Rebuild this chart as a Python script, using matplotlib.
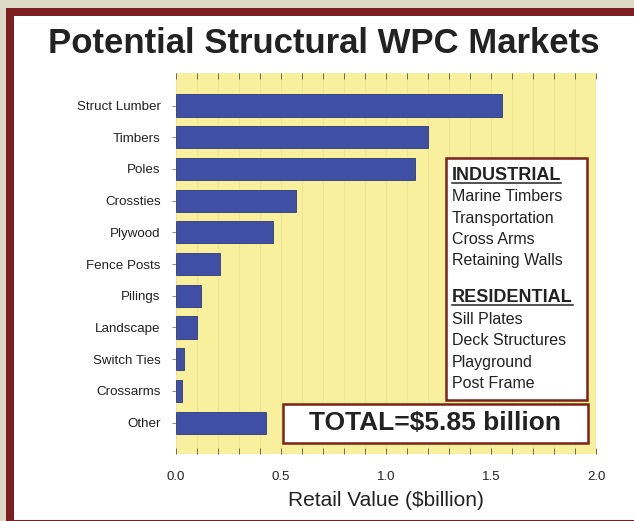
import matplotlib
matplotlib.use("Agg")
import matplotlib.pyplot as plt
from matplotlib.patches import Rectangle
from matplotlib.lines import Line2D
from matplotlib.ticker import MultipleLocator

plt.rcParams['font.family'] = ['Liberation Sans', 'DejaVu Sans']

markets = ['Struct Lumber', 'Timbers', 'Poles', 'Crossties', 'Plywood',
           'Fence Posts', 'Pilings', 'Landscape', 'Switch Ties', 'Crossarms',
           'Other']
retail_value = [1.55, 1.20, 1.14, 0.57, 0.46, 0.21, 0.12, 0.10, 0.04, 0.03, 0.43]
x_ticks = [0.0, 0.5, 1.0, 1.5, 2.0]

industrial = ['Marine Timbers', 'Transportation', 'Cross Arms', 'Retaining Walls']
residential = ['Sill Plates', 'Deck Structures', 'Playground', 'Post Frame']
total_text = 'TOTAL=$5.85 billion'

W, H = 634, 521
fig = plt.figure(figsize=(W / 100, H / 100), dpi=100)

def fx(px):
    return px / W

def fy(py):
    return 1 - py / H

# frame: beige outside, dark red border, white panel
fig.patch.set_facecolor('#dcd9c6')
fig.patches.append(Rectangle((fx(6), 0), 1, fy(8), transform=fig.transFigure,
                             facecolor='#7d1f22', edgecolor='none', zorder=-3))
fig.patches.append(Rectangle((fx(14), 1.2 / H), 1, fy(16) - 1.2 / H,
                             transform=fig.transFigure, facecolor='white',
                             edgecolor='none', zorder=-2))

ax = fig.add_axes([fx(176), fy(454), fx(596) - fx(176), (454 - 73) / H])
ax.set_facecolor('#f8f09c')
pos = list(range(len(markets)))
ax.barh(pos, retail_value, height=0.7, color='#3f50a4', edgecolor='#2c3a7c',
        linewidth=0.6, zorder=3)
ax.set_ylim(10.99, -1.025)
ax.set_xlim(0, 2.0)
ax.set_yticks(pos)
ax.set_yticklabels(markets)
ax.set_xticks(x_ticks)
ax.set_xticklabels([f'{t:.1f}' for t in x_ticks])
ax.xaxis.set_minor_locator(MultipleLocator(0.1))
ax.grid(axis='x', which='both', color='#efe592', linewidth=0.8, zorder=0)
ax.set_axisbelow(True)
for s in ax.spines.values():
    s.set_visible(False)
ax.tick_params(axis='x', which='both', direction='in', top=True, bottom=True,
               length=4, width=0.7, color='#6f6a50', labelsize=9.5,
               labelcolor='#222222', pad=12)
ax.tick_params(axis='y', length=3, width=0.7, color='#888888', labelsize=9.6,
               labelcolor='#222222', pad=8)
ax.set_xlabel('Retail Value ($billion)', fontsize=15, color='#222222', labelpad=6)

fig.text(fx(323.5), fy(53), 'Potential Structural WPC Markets', ha='center',
         va='baseline', fontsize=25, fontweight='bold', color='#222222')

# side box with market segments
border = '#7a2218'
fig.patches.append(Rectangle((fx(446), fy(400)), fx(587) - fx(446), (400 - 158) / H,
                             transform=fig.transFigure, facecolor='white',
                             edgecolor=border, linewidth=1.8, zorder=5))
heads = []
heads.append(fig.text(fx(452), fy(180), 'INDUSTRIAL', fontsize=13,
                      fontweight='bold', color='#222222', va='baseline', zorder=6))
for i, name in enumerate(industrial):
    fig.text(fx(452), fy(201 + 21.5 * i), name, fontsize=11.5, color='#222222',
             va='baseline', zorder=6)
heads.append(fig.text(fx(452), fy(302), 'RESIDENTIAL', fontsize=13,
                      fontweight='bold', color='#222222', va='baseline', zorder=6))
for i, name in enumerate(residential):
    fig.text(fx(452), fy(324 + 21.3 * i), name, fontsize=11.5, color='#222222',
             va='baseline', zorder=6)

# total box
fig.patches.append(Rectangle((fx(283), fy(443)), fx(588) - fx(283), (443 - 404) / H,
                             transform=fig.transFigure, facecolor='white',
                             edgecolor=border, linewidth=1.8, zorder=5))
fig.text(fx(435), fy(430), total_text, ha='center', va='baseline', fontsize=19,
         fontweight='bold', color='#222222', zorder=6)

# underline the headings
fig.canvas.draw()
inv = fig.transFigure.inverted()
for t in heads:
    bb = t.get_window_extent()
    (x0, _), (x1, _) = inv.transform([(bb.x0, 0), (bb.x1, 0)])
    yb = (bb.y0 + 1.5) / H
    fig.lines.append(Line2D([x0, x1], [yb, yb], transform=fig.transFigure,
                            color='#222222', linewidth=1.1, zorder=6))

fig.savefig('out.png', dpi=100)
